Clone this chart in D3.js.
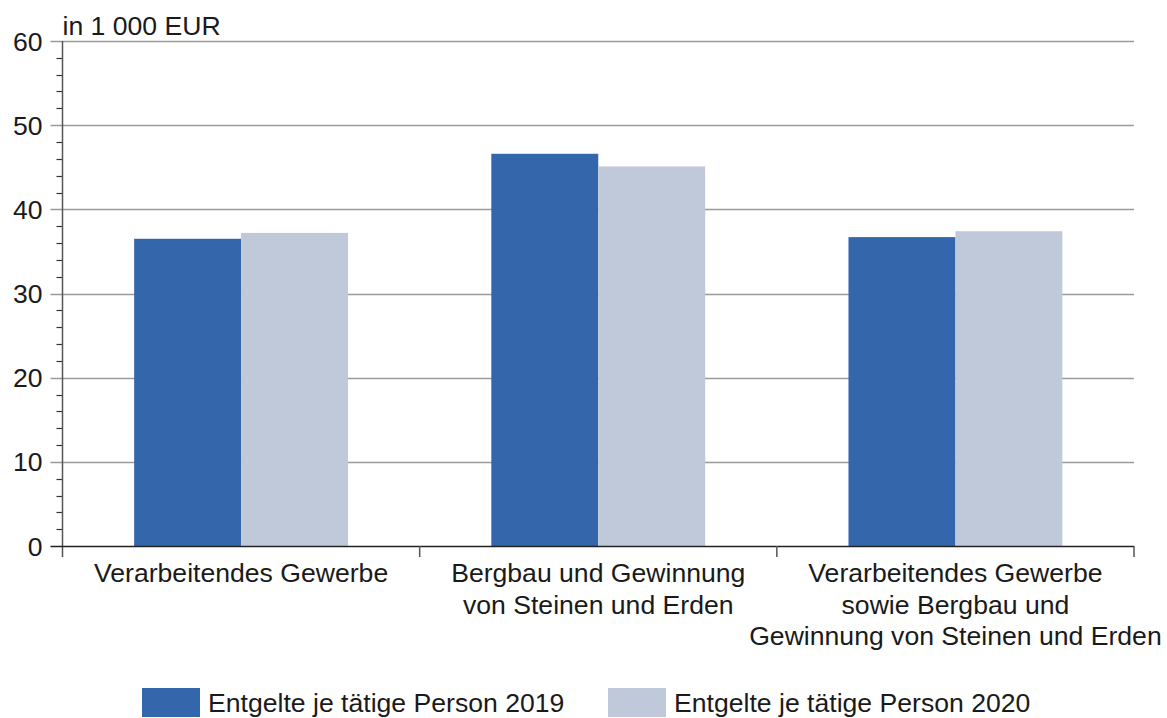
<!DOCTYPE html>
<html>
<head>
<meta charset="utf-8">
<script src="https://cdn.jsdelivr.net/npm/d3@7"></script>
<style>
  body { margin: 0; background: #fff; }
  svg text { font-family: "Liberation Sans", Arial, sans-serif; fill: #1a1a1a; }
</style>
</head>
<body>
<div id="chart"></div>
<script>
// Data______________________________________________
const categories = [
    ['Verarbeitendes Gewerbe'],
    ['Bergbau und Gewinnung', 'von Steinen und Erden'],
    ['Verarbeitendes Gewerbe', 'sowie Bergbau und', 'Gewinnung von Steinen und Erden']
];
const seriesNames = ['Entgelte je tätige Person 2019', 'Entgelte je tätige Person 2020'];
const values2019 = [36.5, 46.6, 36.7];
const values2020 = [37.2, 45.1, 37.4];
const yTicks = [0, 10, 20, 30, 40, 50, 60];
const unitLabel = 'in 1 000 EUR';

// Layout______________________________________________
const width = 1167;
const height = 718;
const plotLeft = 62.5;
const plotRight = 1134;
const plotTop = 41;
const plotBottom = 546;
const colors = ['#3466ac', '#c0c9da'];
const fontSize = 26.6;

const svg = d3.select('#chart')
    .append('svg')
    .attr('width', width)
    .attr('height', height);

const x = d3.scaleBand()
    .domain(d3.range(categories.length))
    .range([plotLeft, plotRight])
    .paddingInner(0)
    .paddingOuter(0);
const inner = d3.scaleBand()
    .domain([0, 1])
    .range([0, x.bandwidth()])
    .paddingOuter(0.67)
    .paddingInner(0);
const y = d3.scaleLinear()
    .domain([0, 60])
    .range([plotBottom, plotTop]);

// Gridlines and major ticks
svg.append('g')
    .selectAll('line')
    .data(yTicks.filter(d => d > 0))
    .enter()
    .append('line')
    .attr('x1', plotLeft - 12)
    .attr('x2', plotRight)
    .attr('y1', d => Math.round(y(d)) + 0.5)
    .attr('y2', d => Math.round(y(d)) + 0.5)
    .attr('stroke', '#9a9a9a')
    .attr('stroke-width', 1.5);

// Minor ticks
svg.append('g')
    .selectAll('line')
    .data(d3.range(0, 60, 2).filter(d => d % 10 !== 0))
    .enter()
    .append('line')
    .attr('x1', plotLeft - 6)
    .attr('x2', plotLeft)
    .attr('y1', d => Math.round(y(d)) + 0.5)
    .attr('y2', d => Math.round(y(d)) + 0.5)
    .attr('stroke', '#333')
    .attr('stroke-width', 1.2);

// Bars
const series = [values2019, values2020];
series.forEach((vals, s) => {
    svg.append('g')
        .selectAll('rect')
        .data(vals)
        .enter()
        .append('rect')
        .attr('x', (d, i) => x(i) + inner(s))
        .attr('width', inner.bandwidth())
        .attr('y', d => y(d))
        .attr('height', d => y(0) - y(d))
        .attr('fill', colors[s]);
});

// Y axis line
svg.append('line')
    .attr('x1', plotLeft).attr('x2', plotLeft)
    .attr('y1', plotTop).attr('y2', plotBottom + 11)
    .attr('stroke', '#555')
    .attr('stroke-width', 1.5);

// X axis line and category ticks
svg.append('line')
    .attr('x1', plotLeft - 12).attr('x2', plotRight)
    .attr('y1', plotBottom + 0.5).attr('y2', plotBottom + 0.5)
    .attr('stroke', '#222')
    .attr('stroke-width', 1.5);
svg.append('g')
    .selectAll('line')
    .data(d3.range(1, categories.length + 1))
    .enter()
    .append('line')
    .attr('x1', i => x.range()[0] + i * x.bandwidth())
    .attr('x2', i => x.range()[0] + i * x.bandwidth())
    .attr('y1', plotBottom)
    .attr('y2', plotBottom + 11)
    .attr('stroke', '#555')
    .attr('stroke-width', 1.5);

// Y tick labels
svg.append('g')
    .selectAll('text')
    .data(yTicks)
    .enter()
    .append('text')
    .attr('x', plotLeft - 20)
    .attr('y', d => y(d))
    .attr('dy', '0.36em')
    .attr('text-anchor', 'end')
    .attr('font-size', fontSize)
    .text(d => d);

// Unit label
svg.append('text')
    .attr('x', plotLeft)
    .attr('y', plotTop - 6)
    .attr('font-size', fontSize)
    .text(unitLabel);

// Category labels
const catLabels = svg.append('g')
    .selectAll('text')
    .data(categories)
    .enter()
    .append('text')
    .attr('text-anchor', 'middle')
    .attr('font-size', fontSize)
    .attr('transform', (d, i) => `translate(${x(i) + x.bandwidth() / 2}, ${plotBottom + 36})`);
catLabels.selectAll('tspan')
    .data(d => d)
    .enter()
    .append('tspan')
    .attr('x', 0)
    .attr('y', (d, j) => j * 31.5)
    .text(d => d);

// Legend
const legendX = [142, 608];
const legend = svg.append('g')
    .selectAll('g')
    .data(seriesNames)
    .enter()
    .append('g')
    .attr('transform', (d, i) => `translate(${legendX[i]}, 688)`);
legend.append('rect')
    .attr('width', 58)
    .attr('height', 29)
    .attr('fill', (d, i) => colors[i]);
legend.append('text')
    .attr('x', 66)
    .attr('y', 24)
    .attr('font-size', fontSize)
    .text(d => d);
</script>
</body>
</html>
